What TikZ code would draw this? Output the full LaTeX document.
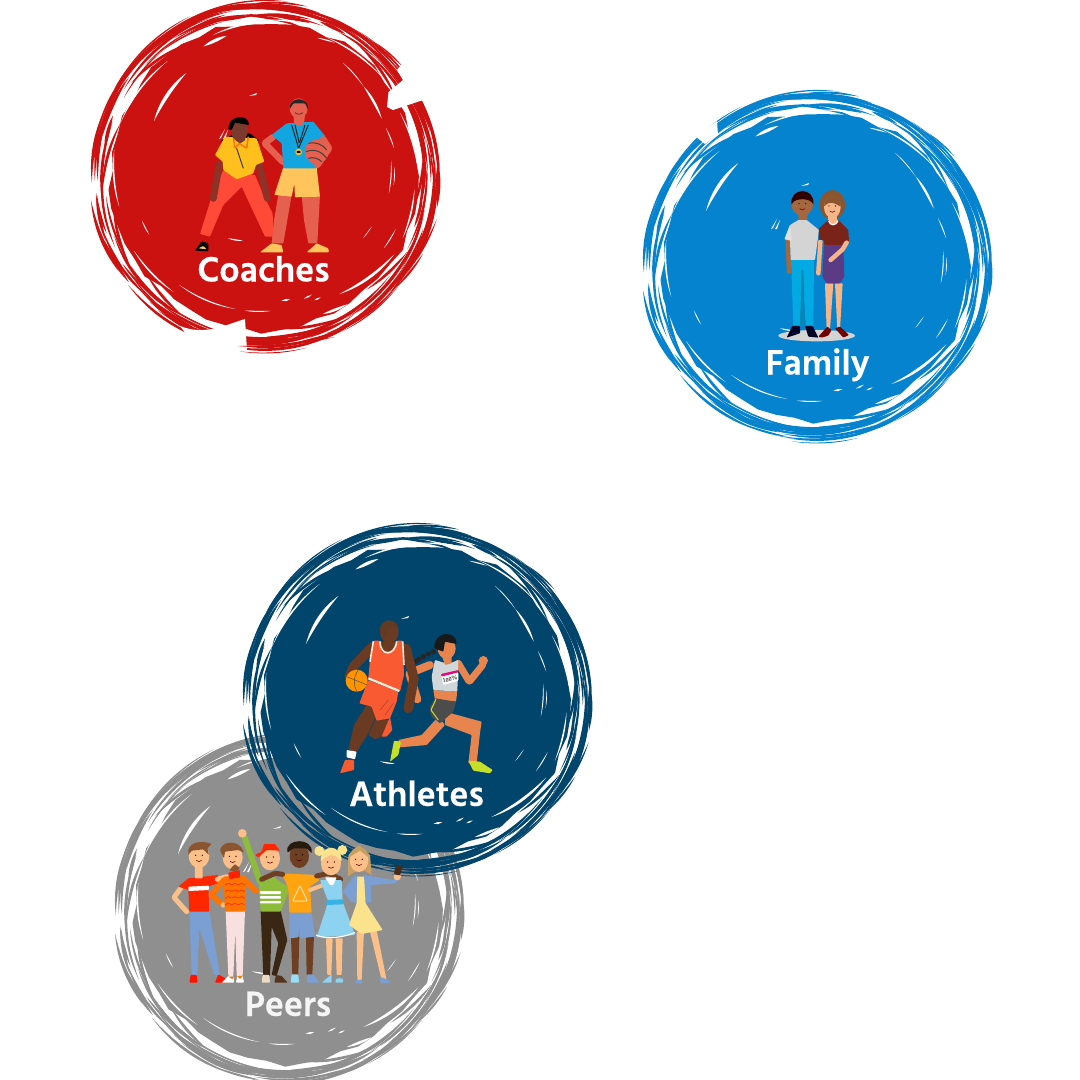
\documentclass[tikz,border=0pt]{standalone}
\usepackage{fontspec}
\newfontfamily\lblfont{Hind Madurai}[BoldFeatures={FakeBold=0.35}]
\definecolor{cRed}{HTML}{CC1111}
\definecolor{cBlue}{HTML}{0583CE}
\definecolor{cNavy}{HTML}{02456C}
\definecolor{cGrey}{HTML}{8F8F8F}
\definecolor{skA}{HTML}{7A3B2E}\definecolor{skB}{HTML}{E6604F}\definecolor{skC}{HTML}{A5673F}
\definecolor{skD}{HTML}{F6B588}\definecolor{skE}{HTML}{6B3A22}\definecolor{skF}{HTML}{E8854E}
\definecolor{skG}{HTML}{FBC08A}\definecolor{skH}{HTML}{6E3F22}
\definecolor{yelA}{HTML}{FFC01D}\definecolor{yelB}{HTML}{FFC55C}\definecolor{pantA}{HTML}{FF4A37}
\definecolor{blueA}{HTML}{12A5E0}\definecolor{blueB}{HTML}{02A9E3}\definecolor{blueC}{HTML}{7B9FD3}
\definecolor{org}{HTML}{FA5A32}\definecolor{lime}{HTML}{C6E02A}
\definecolor{dressB}{HTML}{8DD2F0}\definecolor{dressY}{HTML}{FBE38E}\definecolor{grn}{HTML}{8DBB3C}
\definecolor{hairB}{HTML}{8B5530}\definecolor{hairT}{HTML}{C9A063}\definecolor{purp}{HTML}{5B3A86}
\definecolor{marn}{HTML}{7A2419}
\tikzset{
  limb/.style={line cap=round,line join=round},
  fig/.style={rounded corners=0.8pt},
  lbl/.style={text=white,font=\lblfont\bfseries\fontsize{36}{38}\selectfont,anchor=base,inner sep=0pt}
}
% tapered stroke following a circle: colour, start angle, end angle, start r, end r, half width
\newcommand\crsc[6]{%
  \pgfmathsetmacro\cDa{(#3)-(#2)}%
  \pgfmathsetmacro\cKk{(8-2*cos(\cDa/2))/(6*cos(\cDa/6))}%
  \pgfmathsetmacro\cRa{\cKk*(2*(#4)+(#5))/3}%
  \pgfmathsetmacro\cRb{\cKk*((#4)+2*(#5))/3}%
  \fill[#1] ({#2}:{#4}) .. controls ({#2+\cDa/3}:{\cRa+1.34*#6}) and ({#2+2*\cDa/3}:{\cRb+1.34*#6}) .. ({#3}:{#5})
     .. controls ({#2+2*\cDa/3}:{\cRb-1.34*#6}) and ({#2+\cDa/3}:{\cRa-1.34*#6}) .. cycle;
}
\newcommand\brush[3]{%
\begin{scope}[shift={(#1,#2)}]
  \pgfmathsetseed{4217}
  % scratched outer ring
  \foreach \i in {1,...,175}{
    \pgfmathsetmacro\aS{rnd*360}
    \pgfmathsetmacro\aE{\aS+10+rnd*28}
    \pgfmathsetmacro\rS{160+rnd*14}
    \pgfmathsetmacro\rE{\rS-3+rnd*6}
    \pgfmathsetmacro\wW{0.5+rnd*1.3}
    \crsc{#3}{\aS}{\aE}{\rS}{\rE}{\wW}
  }
  \crsc{#3}{-2}{-24}{176}{172}{0.7}
  \crsc{#3}{14}{36}{178}{171}{1}
  \crsc{#3}{42}{26}{172}{177}{1}
  \crsc{#3}{70}{104}{172}{174}{0.8}
  \crsc{#3}{76}{98}{177}{177}{0.5}
  \crsc{#3}{110}{122}{171}{166}{1.2}
  % strokes bridging ring and disc
  \foreach \aS/\aE in {175/200,215/240,262/285,305/330,350/372,28/48,60/85,120/140,145/170}{
    \crsc{#3}{\aS}{\aE}{162}{153}{1.4}
  }
  % main disc, its edge a little jagged
  \fill[#3] plot[samples at={0,7,...,353}] ({\x}:{154+1.6*sin(5*\x)+1.3*sin(13*\x+40)+1.5*sin(29*\x)}) -- cycle;
  % white slits along the edge of the disc
  \crsc{white}{271}{294}{156}{159}{1}
  \crsc{white}{250}{272}{150}{155}{0.8}
  \crsc{white}{294}{320}{152}{154}{0.8}
  \crsc{white}{335}{358}{150}{154}{0.7}
  \crsc{white}{5}{24}{151}{152}{0.8}
  \crsc{white}{31}{57.5}{152}{140}{1.4}
  \crsc{white}{67}{57}{150}{153}{1.3}
  \crsc{white}{102}{128}{136}{138}{0.6}
  \crsc{white}{87}{98}{135}{136}{0.6}
  \crsc{white}{128}{150}{147}{150}{0.8}
  \crsc{white}{190}{168}{152}{148}{0.8}
  \crsc{white}{200}{230}{153}{150}{0.8}
  % scratches inside the disc
  \crsc{white}{206.6}{233}{123}{129}{1.8}
  \crsc{white}{305}{318}{138}{134}{0.4}
  \crsc{white}{318}{334}{134}{131}{1.2}
  \crsc{white}{338.5}{348}{131}{133}{0.5}
  \crsc{white}{353}{368}{128}{126}{0.5}
  \crsc{white}{356}{364}{131}{130}{0.4}
  \crsc{white}{22}{31}{142}{140}{0.5}
  \crsc{white}{25}{32}{119}{117}{0.3}
  \crsc{white}{245}{255}{143}{145}{1.6}
  \crsc{white}{291}{298}{148}{151}{0.6}
  \crsc{white}{160}{153}{130}{129}{0.5}
  \crsc{white}{78}{82}{126}{126}{1}
  \crsc{white}{68}{72}{128}{129}{0.8}
  \crsc{white}{65}{68}{134}{134}{0.8}
  \crsc{white}{120}{108}{72}{68}{0.7}
  \fill[white] (-15,-80) -- (-7,-83) -- (-8,-81) -- cycle;
  \fill[white] (-45,-37) -- (-39,-47) -- (-43,-38) -- cycle;
  \fill[white] (-41,-37) -- (-36,-46) -- (-39,-37) -- cycle;
\end{scope}}
% small face: eyes and smile, in zoom units
\newcommand\face[3]{%
  \fill[#3] (#1-10,#2-4) circle[radius=2.2];
  \fill[#3] (#1+10,#2-4) circle[radius=2.2];
  \draw[line width=.6pt,#3!70!red] (#1-8,#2+11) .. controls (#1-3,#2+16) and (#1+3,#2+16) .. (#1+8,#2+11);
}
\begin{document}
\begin{tikzpicture}[x=1pt,y=-1pt]
\useasboundingbox (0,0) rectangle (1080,1080);
\fill[white] (0,0) rectangle (1080,1080);

\brush{264}{176}{cRed}
\brush{816}{266}{cBlue}
\brush{288}{909}{cGrey}
\brush{416}{699}{cNavy}

% gaps in the rings
\fill[white] (387,107) -- (388.5,92) -- (403,80) -- (397,70) -- (413,50) -- (447,93) -- (417,102) -- (393,110) -- cycle;
\fill[white] (180,326) .. controls (205,336) and (225,325) .. (245,319) -- (247,350) -- (200,352) -- cycle;
\fill[cRed] (237,346) .. controls (270,349) and (300,345) .. (335,337) .. controls (300,342) and (270,346) .. cycle;
\fill[white] (695,136) -- (717,121) -- (718,135) -- (705,144) -- cycle;

% ---------- Coaches ----------
\begin{scope}[shift={(180,80)},x=0.3333pt,y=-0.3333pt,fig]
  % woman: pants, arms, shirt, head
  \fill[pantA] (130,270)--(225,285)--(250,345)--(278,400)--(280,470)--(255,470)--(185,320)--(130,375)--(90,470)--(60,462)--(95,350)--cycle;
  \fill[black] (45,512)--(65,484)--(85,490)--(85,514)--cycle;
  \fill[yelB] (55,505) -- (80,508) -- (70,498) -- cycle;
  \draw[limb,line width=7pt,skA!85!red] (118,252)--(100,355);
  \draw[limb,line width=7pt,skA!85!red] (238,255)--(262,355);
  \fill[black] (120,185)--(160,163)--(210,160)--(238,182)--(200,185)--(150,185)--cycle;
  \fill[yelA] (105,225)--(135,170)--(230,175)--(253,245)--(228,255)--(220,280)--(170,298)--(130,270)--(128,245)--cycle;
  \draw[line width=1.5pt,orange!90!red] (160,170)--(165,205)--(178,190)--(200,205)--(205,170);
  \draw[line width=1pt,black!80] (170,205)--(190,265);
  \fill[skA] (158,160)--(198,160)--(195,182)--(180,190)--(165,180)--cycle;
  \fill[skA] (178,150) ellipse[x radius=26,y radius=33];
  \fill[black] (145,148) .. controls (145,105) and (205,100) .. (207,135) -- (165,128) -- (155,150) -- cycle;
  % man: legs, shoes, shorts, shirt, arms, ball, head
  \fill[skB] (295,345)--(335,345)--(310,490)--(275,490)--(282,420)--cycle;
  \fill[skB] (365,345)--(420,345)--(412,490)--(385,490)--(372,420)--cycle;
  \fill[yelB] (240,517)--(275,490)--(305,495)--(310,517)--cycle;
  \fill[yelB] (380,517)--(410,490)--(445,505)--(447,517)--cycle;
  \fill[yelB] (310,262)--(410,262)--(420,350)--(345,352)--(343,310)--(335,350)--(283,345)--cycle;
  \draw[limb,line width=6.5pt,skB] (278,172)--(254,190)--(308,245);
  \fill[blueA] (275,165)--(320,130)--(400,125)--(437,170)--(405,195)--(410,265)--(310,265)--(305,190)--cycle;
  \draw[limb,line width=6.5pt,skB] (430,178)--(447,205)--(412,255);
  \fill[skB] (410,215) circle[radius=36];
  \draw[line width=1pt,black!75] (385,190) .. controls (410,185) and (430,195) .. (440,210);
  \draw[line width=1pt,black!75] (378,215) .. controls (405,205) and (425,215) .. (440,235);
  \draw[line width=1pt,black!75] (385,235) .. controls (400,230) and (415,235) .. (425,245);
  \fill[skB] (340,105)--(375,105)--(372,130)--(358,140)--(343,130)--cycle;
  \fill[skB] (356,85) ellipse[x radius=27,y radius=30];
  \fill[black!85] (329,88) .. controls (328,48) and (386,48) .. (385,90) -- (375,70) -- (340,70) -- cycle;
  \draw[line width=.6pt,black!85] (345,98) .. controls (350,104) and (362,104) .. (368,98);
  \draw[line width=1pt,black!85] (335,135)--(356,205)--(385,135);
  \draw[line width=1pt,black!85] (345,135)--(358,190)--(375,135);
  \fill[yelA] (356,216) circle[radius=10];
  \fill[black] (350,213) rectangle (362,219);
\end{scope}
\node[lbl] (coachesLabel) at (263.5,281.5) {Coaches};

% ---------- Family ----------
\begin{scope}[shift={(750,170)},x=0.3333pt,y=-0.3333pt,fig]
  \fill[black!17] (200,497) ellipse[x radius=115,y radius=17];
  \fill[blueB] (123,265)--(192,262)--(190,470)--(168,470)--(157,320)--(150,470)--(130,470)--cycle;
  \fill[blueB!80!black] (155,300)--(160,300)--(165,468)--(150,468)--cycle;
  \fill[black!85!blue] (110,503)--(127,468)--(150,468)--(150,490)--cycle;
  \fill[black!85!blue] (165,468)--(188,468)--(205,503)--(175,500)--cycle;
  \draw[limb,line width=4.5pt,skC] (113,212)--(117,305);
  \fill[skC] (145,130)--(172,130)--(172,160)--(145,160)--cycle;
  \fill[black!17] (105,205)--(120,165)--(145,150)--(170,150)--(207,180)--(195,270)--(122,270)--(120,210)--cycle;
  \fill[white!88!black] (103,208)--(120,165)--(125,212)--cycle;
  \fill[skC] (157,100) ellipse[x radius=33,y radius=38];
  \fill[black!80!red] (124,105) .. controls (120,50) and (195,50) .. (190,105) .. controls (185,85) and (135,80) .. (124,105) -- cycle;
  \face{157}{105}{black!70!red}
  \fill[skD] (225,340)--(250,340)--(240,480)--(230,480)--cycle;
  \fill[skD] (255,340)--(278,340)--(270,480)--(262,480)--cycle;
  \fill[red!45!black] (205,500)--(232,470)--(245,480)--(235,497)--(215,503)--cycle;
  \fill[red!45!black] (255,475)--(270,470)--(297,495)--(280,503)--cycle;
  \draw[limb,line width=4.5pt,skD] (211,215)--(205,310);
  \fill[purp] (222,225)--(280,222)--(283,320)--(270,340)--(230,340)--(217,320)--cycle;
  \fill[hairB] (247,105) ellipse[x radius=38,y radius=45];
  \fill[skD] (235,130)--(260,130)--(262,165)--(232,165)--cycle;
  \fill[skD] (247,112) ellipse[x radius=25,y radius=32];
  \fill[hairB] (222,110) .. controls (225,70) and (270,70) .. (272,110) .. controls (255,100) and (240,90) .. (222,110) -- cycle;
  \face{247}{112}{black!70!red}
  \fill[marn] (207,175)--(235,150)--(265,150)--(295,180)--(297,215)--(280,215)--(278,225)--(222,225)--(222,210)--(207,210)--cycle;
  \fill[skD] (235,150) .. controls (240,168) and (258,168) .. (265,150) -- cycle;
  \draw[line width=1.2pt,white] (236,153) .. controls (240,168) and (258,168) .. (264,153);
  \draw[limb,line width=4.5pt,skD] (290,218)--(278,238)--(242,270);
\end{scope}
\node[lbl] (familyLabel) at (817.5,374.5) {Family};

% ---------- Athletes ----------
\begin{scope}[shift={(330,610)},x=0.3333pt,y=-0.3333pt,fig]
  % woman
  \draw[limb,line width=8pt,skF] (300,165)--(238,190)--(262,268);
  \draw[limb,line width=7pt,skF] (385,160)--(418,215)--(458,165);
  \fill[skF] (460,152) circle[radius=14];
  \fill[skF] (345,305)--(455,335)--(450,370)--(440,460)--(415,460)--(425,375)--(345,345)--cycle;
  \fill[skF] (325,320)--(345,345)--(290,405)--(210,412)--(205,390)--(275,375)--cycle;
  \fill[lime] (180,455)--(192,392)--(213,395)--(205,435)--cycle;
  \fill[lime] (415,452)--(450,455)--(488,480)--(480,490)--(430,482)--cycle;
  \fill[skF] (310,240)--(382,245)--(378,275)--(315,270)--cycle;
  \fill[black!70] (315,265)--(378,275)--(370,305)--(330,340)--(305,320)--(298,295)--cycle;
  \draw[line width=1pt,lime] (318,268)--(303,300)--(325,330);
  \fill[black!18!cyan!8!white!85!black] (315,150)--(355,162)--(385,150)--(382,245)--(310,240)--(305,200)--cycle;
  \fill[magenta!85!red] (333,192)--(385,180)--(385,187)--(335,200)--cycle;
  \fill[white] (335,200)--(385,188)--(385,212)--(340,225)--cycle;
  \node[inner sep=0pt,rotate=12,font=\sffamily\bfseries\fontsize{5.5}{6}\selectfont,text=black!80] (bib) at (360,208) {100\%};
  \fill[skF] (350,115) ellipse[x radius=27,y radius=32];
  \fill[skF] (335,135)--(365,135)--(365,160)--(345,165)--cycle;
  \fill[black!90] (313,115) .. controls (312,62) and (378,60) .. (380,102) -- (345,95) -- (340,125) -- cycle;
  \foreach \bx/\by in {310/125,295/132,280/140,266/148,257/154}{\fill[black!85] (\bx,\by) circle[radius=8];}
  % man
  \fill[skE] (110,285)--(145,300)--(115,370)--(80,425)--(55,420)--(72,345)--cycle;
  \fill[skE] (140,320)--(175,330)--(165,375)--(135,388)--(115,375)--cycle;
  \fill[org] (155,380)--(180,320)--(187,360)--(170,380)--cycle;
  \fill[white] (50,420)--(80,425)--(75,448)--(50,442)--cycle;
  \fill[org] (30,490)--(45,450)--(72,450)--(72,480)--cycle;
  \draw[limb,line width=9.5pt,skE] (125,112)--(70,170)--(58,200);
  \draw[limb,line width=9.5pt,skE] (228,115)--(252,205)--(235,295);
  \fill[skE] (152,95)--(205,95)--(200,120)--(175,135)--(155,120)--cycle;
  \fill[skE] (178,65) ellipse[x radius=28,y radius=34];
  \fill[hairB!70!black] (150,60) .. controls (150,25) and (200,25) .. (203,52) -- (178,48) -- (165,85) -- cycle;
  \fill[org] (115,210)--(205,245)--(200,275)--(180,325)--(140,332)--(125,290)--(88,280)--cycle;
  \fill[org] (130,92)--(148,92)--(155,125)--(190,125)--(200,92)--(218,92)--(222,195)--(210,245)--(115,205)--(120,150)--cycle;
  \draw[line width=.5pt,org!70!black] (175,270)--(150,300) (190,280)--(165,315);
  \draw[line width=1.6pt,white!85!orange] (150,94) .. controls (150,140) and (195,140) .. (200,94);
  \draw[line width=1.6pt,white!85!orange] (130,94)--(120,155);
  \draw[line width=1.6pt,white!85!orange] (218,94)--(222,165);
  \draw[line width=2.2pt,white!85!orange] (115,205)--(208,243);
  \fill[orange!85!yellow] (80,212) circle[radius=33];
  \draw[line width=.5pt,black!70] (50,200)--(112,225) (85,180) .. controls (70,200) and (70,225) .. (80,244);
\end{scope}
\node[lbl] (athletesLabel) at (416.5,806) {Athletes};

% ---------- Peers ----------
\begin{scope}[shift={(160,820)},x=0.3333pt,y=-0.3333pt,fig]
  % person 1
  \fill[blueC] (88,272)--(148,272)--(180,465)--(163,465)--(118,325)--(112,465)--(95,465)--cycle;
  \fill[red!85!orange] (88,488)--(92,465)--(110,465)--(113,488)--cycle;
  \fill[red!85!orange] (165,488)--(175,463)--(200,478)--(205,488)--cycle;
  \draw[limb,line width=5pt,skG] (62,205)--(42,232)--(80,275);
  \fill[red!70!orange] (55,200)--(85,175)--(175,165)--(172,190)--(145,200)--(148,275)--(88,275)--(85,210)--cycle;
  \fill[white] (85,200)--(147,197)--(147,210)--(85,213)--cycle;
  \draw[limb,line width=5pt,skG] (172,178)--(200,170);
  \fill[skG] (105,135)--(128,135)--(128,175)--(105,175)--cycle;
  \fill[skG] (117,108) ellipse[x radius=31,y radius=36];
  \fill[hairB] (85,105) .. controls (80,65) and (125,60) .. (155,72) -- (142,85) -- (147,105) -- (130,88) -- (95,92) -- cycle;
  \face{117}{110}{black!80!red}
  % person 2
  \fill[black!20!red!12!white] (197,272)--(255,272)--(248,468)--(230,468)--(226,330)--(220,468)--(205,468)--cycle;
  \fill[white] (185,488)--(205,468)--(222,470)--(222,488)--cycle;
  \fill[orange!90!red] (205,470)--(222,470)--(218,478)--cycle;
  \fill[white] (228,488)--(232,468)--(248,468)--(252,488)--cycle;
  \fill[orange!90!red] (232,468)--(248,468)--(240,478)--cycle;
  \draw[limb,line width=5.5pt,orange!90!red] (192,180)--(153,225)--(190,255);
  \fill[skG] (190,255) circle[radius=8];
  \fill[orange!90!red] (190,170)--(250,165)--(300,215)--(285,222)--(255,195)--(255,275)--(195,275)--(192,200)--cycle;
  \foreach \zy in {195,215,235,255}{\draw[line width=.6pt,red!70!orange] (195,\zy)--(205,\zy-6)--(215,\zy)--(225,\zy-6)--(235,\zy)--(245,\zy-6)--(254,\zy);}
  \fill[skG] (218,112) ellipse[x radius=30,y radius=36];
  \fill[hairB] (180,90) .. controls (190,60) and (240,60) .. (252,98) -- (235,90) -- (195,95) -- (192,115) -- cycle;
  \face{218}{113}{black!80!red}
  \fill[red!75!orange] (205,158)--(240,150)--(240,172)--(208,178)--cycle;
  \fill[hairB] (208,150)--(225,132)--(240,145)--(225,156)--cycle;
  % person 3
  \fill[black!70!brown] (302,272)--(362,272)--(382,360)--(350,468)--(335,465)--(355,370)--(335,320)--(330,468)--(310,468)--cycle;
  \fill[white!70!brown] (305,488)--(308,465)--(328,465)--(330,488)--cycle;
  \fill[hairB!60!black] (343,488)--(348,465)--(365,468)--(383,488)--cycle;
  \draw[limb,line width=6pt,grn] (255,55)--(300,185);
  \fill[skG] (247,40) circle[radius=13];
  \fill[grn] (295,175)--(340,170)--(390,205)--(362,275)--(302,275)--cycle;
  \fill[white] (300,213)--(363,213)--(363,222)--(300,222)--cycle;
  \fill[white] (300,228)--(363,228)--(363,236)--(300,236)--cycle;
  \fill[white] (300,243)--(363,243)--(363,250)--(300,250)--cycle;
  \fill[skG] (330,115) ellipse[x radius=30,y radius=36];
  \fill[red!70!orange] (285,105)--(305,95)--(312,72)--(345,72)--(360,92)--(320,90)--(295,112)--cycle;
  \face{330}{115}{black!80!red}
  % person 4
  \fill[skH] (393,350)--(418,350)--(415,465)--(397,465)--cycle;
  \fill[skH] (438,350)--(462,348)--(457,465)--(440,465)--cycle;
  \fill[white!60!cyan] (392,488)--(395,463)--(415,463)--(417,488)--cycle;
  \fill[blueC] (440,488)--(442,463)--(458,463)--(480,488)--cycle;
  \fill[blueC] (388,278)--(455,278)--(465,350)--(420,355)--(418,310)--(415,352)--(388,355)--cycle;
  \fill[yelA!55!orange] (365,160)--(470,165)--(478,180)--(450,200)--(455,278)--(388,278)--(385,205)--cycle;
  \draw[line width=1pt,yelB!50!white] (420,197)--(398,243)--(442,243)--cycle;
  \draw[limb,line width=5pt,skH] (305,178)--(345,160)--(368,163);
  \draw[limb,line width=5pt,skH] (470,168)--(505,160)--(542,178);
  \fill[skH] (418,108) ellipse[x radius=29,y radius=36];
  \fill[black!80!brown] (383,98) .. controls (373,55) and (460,50) .. (455,100) -- (440,85) -- (400,85) -- cycle;
  \face{418}{108}{black}
  % person 5
  \draw[limb,line width=4pt,skG] (450,210)--(490,195);
  \fill[skG] (498,355)--(518,355)--(514,465)--(502,465)--cycle;
  \fill[skG] (527,355)--(548,355)--(545,465)--(530,465)--cycle;
  \fill[dressB] (485,488)--(515,463)--(515,488)--cycle;
  \fill[dressB] (525,488)--(530,475)--(548,475)--(550,488)--cycle;
  \fill[dressB] (480,180)--(545,180)--(548,245)--(585,345)--(470,352)--(505,245)--cycle;
  \fill[blueA!85!white] (500,240)--(548,238)--(552,253)--(498,255)--cycle;
  \draw[line width=1.2pt,white] (468,345) .. controls (500,360) and (550,352) .. (585,338);
  \fill[white] (495,172)--(530,172)--(520,195)--(510,195)--cycle;
  \fill[dressY] (478,93) circle[radius=15];
  \fill[dressY] (547,90) circle[radius=15];
  \fill[skG] (513,130) ellipse[x radius=30,y radius=36];
  \fill[dressY] (482,125) .. controls (483,70) and (544,70) .. (545,125) .. controls (525,100) and (505,100) .. (482,125) -- cycle;
  \face{513}{130}{black!80!red}
  % person 6
  \fill[skG] (590,335)--(612,335)--(605,480)--(592,480)--cycle;
  \fill[skG] (630,335)--(650,330)--(680,480)--(665,480)--cycle;
  \fill[blueC] (585,490)--(588,480)--(605,480)--(607,490)--cycle;
  \fill[blueC] (660,470)--(690,482)--(690,490)--(662,490)--cycle;
  \fill[hairT] (563,170)--(565,105)--(597,75)--(630,105)--(635,165)--(610,150)--(585,155)--cycle;
  \fill[dressY] (590,170)--(620,170)--(617,250)--(668,330)--(605,342)--(567,315)--(590,250)--cycle;
  \fill[blueC] (548,215)--(585,165)--(592,172)--(588,250)--(574,245)--cycle;
  \fill[blueC] (612,165)--(700,180)--(718,160)--(708,190)--(632,195)--(634,245)--(617,250)--cycle;
  \fill[skG] (597,120) ellipse[x radius=28,y radius=36];
  \fill[hairT] (568,112) .. controls (575,72) and (620,72) .. (628,114) -- (600,92) -- cycle;
  \face{597}{122}{black!80!red}
  \fill[skG] (712,170) circle[radius=11];
  \fill[hairB!50!black] (708,136)--(728,138)--(720,166)--(702,163)--cycle;
\end{scope}
\node[lbl,text=white!96!black] (peersLabel) at (288,1016) {Peers};
\end{tikzpicture}
\end{document}
